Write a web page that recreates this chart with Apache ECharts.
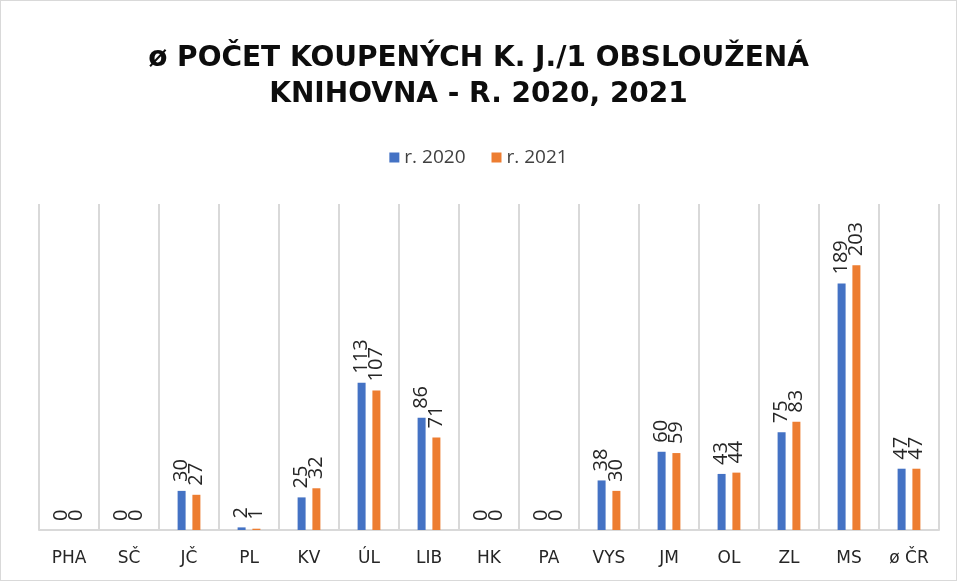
<!DOCTYPE html>
<html>
<head>
<meta charset="utf-8">
<script src="https://cdn.jsdelivr.net/npm/echarts@6/dist/echarts.min.js"></script>
<style>
  html, body { margin: 0; padding: 0; background: #fff; }
  #chart { width: 957px; height: 581px; box-sizing: border-box; border: 1px solid #d9d9d9; }
</style>
</head>
<body>
<div id="chart"></div>
<script>
// data
var categories = ['PHA', 'SČ', 'JČ', 'PL', 'KV', 'ÚL', 'LIB', 'HK', 'PA', 'VYS', 'JM', 'OL', 'ZL', 'MS', 'ø ČR'];
var values2020 = [0, 0, 30, 2, 25, 113, 86, 0, 0, 38, 60, 43, 75, 189, 47];
var values2021 = [0, 0, 27, 1, 32, 107, 71, 0, 0, 30, 59, 44, 83, 203, 47];
var seriesNames = ['r. 2020', 'r. 2021'];
var titleText = 'ø POČET KOUPENÝCH K. J./1 OBSLOUŽENÁ\nKNIHOVNA - R. 2020, 2021';

var el = document.getElementById('chart');
var myChart = echarts.init(el, null, { renderer: 'canvas' });

var barLabel = {
  show: true,
  position: 'top',
  rotate: 90,
  align: 'left',
  verticalAlign: 'middle',
  distance: 9,
  color: '#262626',
  fontFamily: 'Open Sans',
  fontSize: 20
};

var option = {
  animation: false,
  color: ['#4472C4', '#ED7D31'],
  title: {
    text: titleText,
    left: 'center',
    top: 35,
    textStyle: {
      fontFamily: 'DejaVu Sans',
      fontWeight: 'bold',
      fontSize: 28,
      lineHeight: 36,
      color: '#0d0d0d'
    }
  },
  legend: {
    data: seriesNames,
    top: 142,
    left: 'center',
    itemWidth: 10,
    itemHeight: 10,
    itemGap: 26,
    icon: 'rect',
    textStyle: { fontFamily: 'Open Sans', fontSize: 19, color: '#404040' }
  },
  grid: { left: 38, right: 17, top: 203, bottom: 50 },
  xAxis: {
    type: 'category',
    data: categories,
    axisTick: { show: false },
    axisLine: { lineStyle: { color: '#d9d9d9', width: 2 } },
    splitLine: { show: true, lineStyle: { color: '#d9d9d9', width: 2 } },
    axisLabel: {
      margin: 20,
      fontFamily: 'DejaVu Sans',
      fontSize: 17,
      color: '#262626',
      interval: 0
    }
  },
  yAxis: {
    type: 'value',
    min: 0,
    max: 250,
    show: false,
    splitLine: { show: false }
  },
  series: [
    {
      name: seriesNames[0],
      type: 'bar',
      data: values2020,
      barWidth: 8,
      barGap: '85%',
      label: barLabel
    },
    {
      name: seriesNames[1],
      type: 'bar',
      data: values2021,
      barWidth: 8,
      label: barLabel
    }
  ]
};

myChart.setOption(option, true);
</script>
</body>
</html>
